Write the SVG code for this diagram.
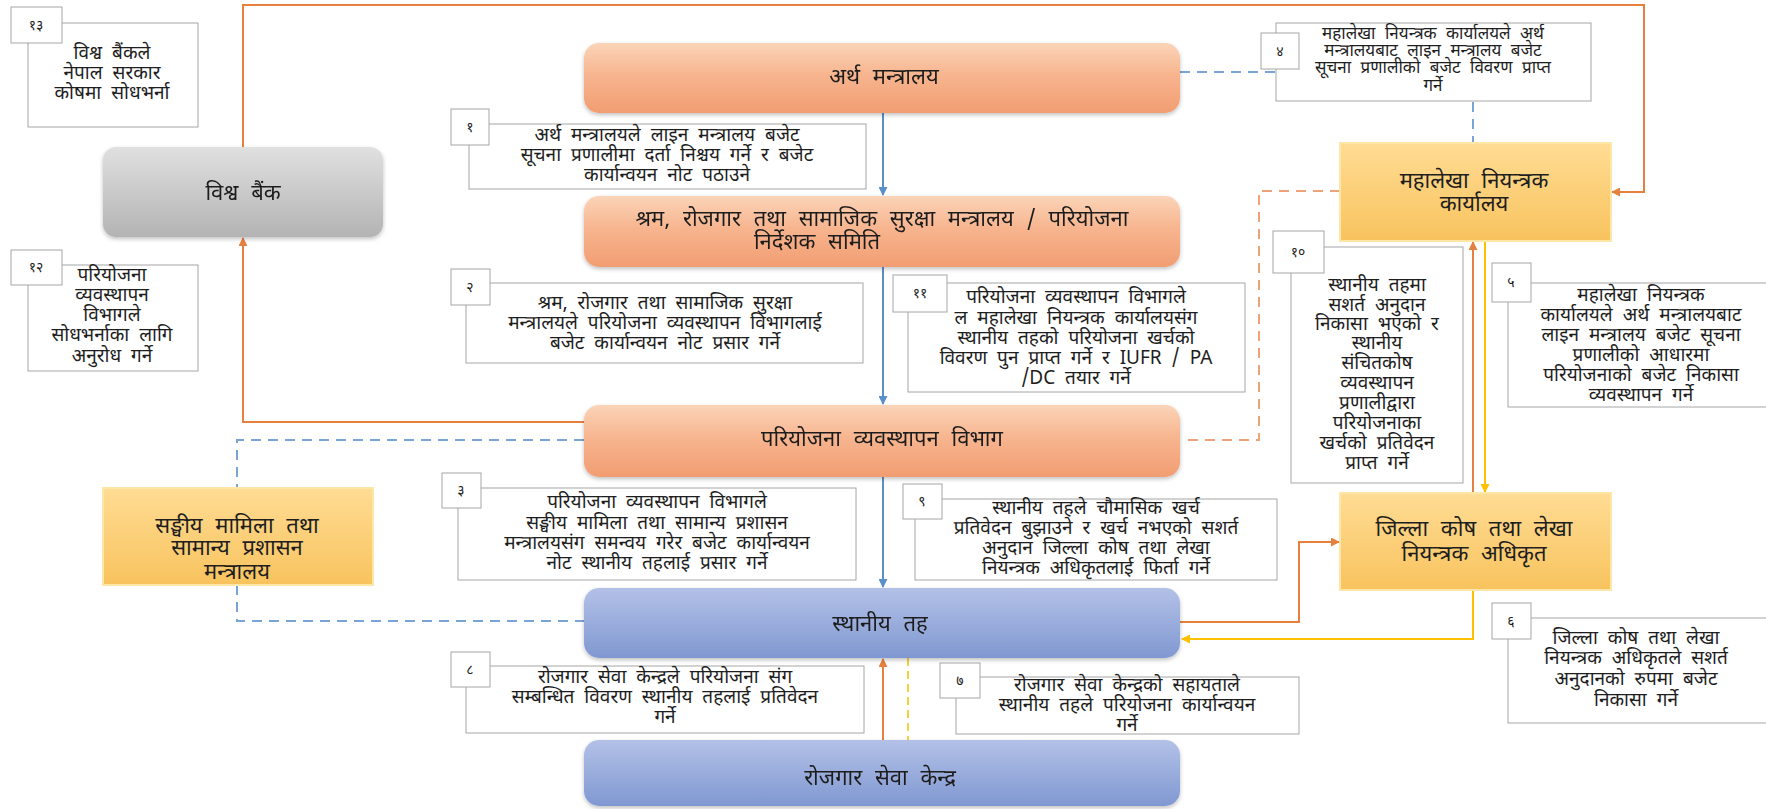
<svg xmlns="http://www.w3.org/2000/svg" width="1766" height="809" viewBox="0 0 1766 809">
<style>
text{font-family:"Noto Sans Devanagari","Lohit Devanagari","Noto Sans","DejaVu Sans",sans-serif;fill:#1e1e1e;text-anchor:middle}
.lbl{font-size:22px;word-spacing:7px}
.cl{font-size:19px;word-spacing:5px}
.c4{font-size:17px;word-spacing:5px}
.num{font-size:14px}
.cbox{fill:#fff;stroke:#a6a6a6;stroke-width:1}
.nbox{fill:#fff;stroke:#a6a6a6;stroke-width:1}
.conn{fill:none;stroke-width:2}
.blue{stroke:#5b8fc9}
.orange{stroke:#e5803f}
.yellow{stroke:#ffc000}
.bdash{stroke:#7aa3d6;stroke-dasharray:10 7}
.odash{stroke:#eea27a;stroke-dasharray:10 7}
.ydash{stroke:#f5d23c;stroke-dasharray:8 5}
</style>
<defs>
<linearGradient id="gOr" x1="0" y1="0" x2="0" y2="1"><stop offset="0" stop-color="#fbd4b8"/><stop offset="0.45" stop-color="#f7b58f"/><stop offset="1" stop-color="#f29d72"/></linearGradient>
<linearGradient id="gGr" x1="0" y1="0" x2="0" y2="1"><stop offset="0" stop-color="#e0e0e0"/><stop offset="1" stop-color="#b3b3b3"/></linearGradient>
<linearGradient id="gYe" x1="0" y1="0" x2="0" y2="1"><stop offset="0" stop-color="#ffdc94"/><stop offset="1" stop-color="#f8c35e"/></linearGradient>
<linearGradient id="gBl" x1="0" y1="0" x2="0" y2="1"><stop offset="0" stop-color="#b3c1e7"/><stop offset="1" stop-color="#8098d1"/></linearGradient>
<filter id="sh" x="-5%" y="-10%" width="110%" height="130%"><feGaussianBlur in="SourceAlpha" stdDeviation="2"/><feOffset dx="0" dy="2"/><feComponentTransfer><feFuncA type="linear" slope="0.25"/></feComponentTransfer><feMerge><feMergeNode/><feMergeNode in="SourceGraphic"/></feMerge></filter>
<marker id="aB" markerWidth="9" markerHeight="9" refX="8" refY="4.5" orient="auto" markerUnits="userSpaceOnUse"><path d="M0,0 L9,4.5 L0,9 z" fill="#5b8fc9"/></marker>
<marker id="aO" markerWidth="9" markerHeight="9" refX="8" refY="4.5" orient="auto" markerUnits="userSpaceOnUse"><path d="M0,0 L9,4.5 L0,9 z" fill="#e5803f"/></marker>
<marker id="aY" markerWidth="9" markerHeight="9" refX="8" refY="4.5" orient="auto" markerUnits="userSpaceOnUse"><path d="M0,0 L9,4.5 L0,9 z" fill="#ffc000"/></marker>
</defs>
<rect width="1766" height="809" fill="#fff"/>

<g id="connectors">
<path class="conn blue" d="M883,113 V195" marker-end="url(#aB)"/>
<path class="conn blue" d="M883,267 V404" marker-end="url(#aB)"/>
<path class="conn blue" d="M883,477 V587" marker-end="url(#aB)"/>
<path class="conn orange" d="M883,740 V659" marker-end="url(#aO)"/>
<path class="conn ydash" d="M908,658 V740"/>
<path class="conn orange" d="M584,422 H243 V238" marker-end="url(#aO)"/>
<path class="conn orange" d="M243,147 V5 H1644 V192 H1612" marker-end="url(#aO)"/>
<path class="conn bdash" d="M1180,72 H1473 V143"/>
<path class="conn odash" d="M1340,191 H1259 V440 H1182"/>
<path class="conn orange" d="M1473,493 V242" marker-end="url(#aO)"/>
<path class="conn yellow" d="M1485,241 V492" marker-end="url(#aY)"/>
<path class="conn orange" d="M1180,622 H1299 V542 H1339" marker-end="url(#aO)"/>
<path class="conn yellow" d="M1473,590 V639 H1182" marker-end="url(#aY)"/>
<path class="conn bdash" d="M584,440 H237 V488"/>
<path class="conn bdash" d="M237,585 V621 H584"/>
</g>

<g id="n-artha" filter="url(#sh)">
<rect x="584" y="43" width="596" height="70" rx="15" fill="url(#gOr)"/>
<text class="lbl" x="884" y="84">अर्थ मन्त्रालय</text>
</g>
<g id="n-shram" filter="url(#sh)">
<rect x="584" y="196" width="596" height="71" rx="15" fill="url(#gOr)"/>
<text class="lbl" y="226"><tspan x="882">श्रम, रोजगार तथा सामाजिक सुरक्षा मन्त्रालय / परियोजना</tspan><tspan x="817" dy="23">निर्देशक समिति</tspan></text>
</g>
<g id="n-pariyojana" filter="url(#sh)">
<rect x="584" y="405" width="596" height="72" rx="15" fill="url(#gOr)"/>
<text class="lbl" x="882" y="446">परियोजना व्यवस्थापन विभाग</text>
</g>
<g id="n-sthaniya" filter="url(#sh)">
<rect x="584" y="588" width="596" height="70" rx="15" fill="url(#gBl)"/>
<text class="lbl" x="880" y="631">स्थानीय तह</text>
</g>
<g id="n-rojgar" filter="url(#sh)">
<rect x="584" y="740" width="596" height="66" rx="15" fill="url(#gBl)"/>
<text class="lbl" x="880" y="785">रोजगार सेवा केन्द्र</text>
</g>
<g id="n-wb" filter="url(#sh)">
<rect x="103" y="147" width="280" height="90" rx="13" fill="url(#gGr)"/>
<text class="lbl" x="243" y="200">विश्व बैंक</text>
</g>
<g id="n-mahalekha">
<rect x="1340" y="143" width="271" height="98" fill="url(#gYe)" stroke="#fde6a6" stroke-width="2"/>
<text class="lbl" y="188"><tspan x="1474">महालेखा नियन्त्रक</tspan><tspan x="1474" dy="23">कार्यालय</tspan></text>
</g>
<g id="n-jilla">
<rect x="1340" y="493" width="271" height="97" fill="url(#gYe)" stroke="#fde6a6" stroke-width="2"/>
<text class="lbl" y="536"><tspan x="1474">जिल्ला कोष तथा लेखा</tspan><tspan x="1474" dy="25">नियन्त्रक अधिकृत</tspan></text>
</g>
<g id="n-sanghiya">
<rect x="103" y="488" width="270" height="97" fill="url(#gYe)" stroke="#fde6a6" stroke-width="2"/>
<text class="lbl" y="533"><tspan x="237">सङ्घीय मामिला तथा</tspan><tspan x="237" dy="22">सामान्य प्रशासन</tspan><tspan x="237" dy="24">मन्त्रालय</tspan></text>
</g>

<g id="c13">
<rect class="cbox" x="28" y="23" width="170" height="104"/>
<rect class="nbox" x="11" y="7" width="51" height="36"/>
<text class="num" x="36" y="30">१३</text>
<text class="cl" y="59"><tspan x="112">विश्व बैंकले</tspan><tspan x="112" dy="20">नेपाल सरकार</tspan><tspan x="112" dy="20">कोषमा सोधभर्ना</tspan></text>
</g>
<g id="c12">
<rect class="cbox" x="28" y="265" width="170" height="106"/>
<rect class="nbox" x="11" y="250" width="51" height="35"/>
<text class="num" x="36" y="272">१२</text>
<text class="cl" y="281"><tspan x="112">परियोजना</tspan><tspan x="112" dy="20">व्यवस्थापन</tspan><tspan x="112" dy="20">विभागले</tspan><tspan x="112" dy="20">सोधभर्नाका लागि</tspan><tspan x="112" dy="21">अनुरोध गर्ने</tspan></text>
</g>
<g id="c1">
<rect class="cbox" x="469" y="124" width="397" height="65"/>
<rect class="nbox" x="451" y="109" width="38" height="36"/>
<text class="num" x="470" y="132">१</text>
<text class="cl" y="141"><tspan x="667">अर्थ मन्त्रालयले लाइन मन्त्रालय बजेट</tspan><tspan x="667" dy="20">सूचना प्रणालीमा दर्ता निश्चय गर्ने र बजेट</tspan><tspan x="667" dy="20">कार्यान्वयन नोट पठाउने</tspan></text>
</g>
<g id="c4">
<rect class="cbox" x="1276" y="23" width="315" height="78"/>
<rect class="nbox" x="1261" y="33" width="38" height="36"/>
<text class="num" x="1280" y="56">४</text>
<text class="c4" y="39"><tspan x="1433">महालेखा नियन्त्रक कार्यालयले अर्थ</tspan><tspan x="1433" dy="17">मन्त्रालयबाट लाइन मन्त्रालय बजेट</tspan><tspan x="1433" dy="17">सूचना प्रणालीको बजेट विवरण प्राप्त</tspan><tspan x="1433" dy="18">गर्ने</tspan></text>
</g>
<g id="c2">
<rect class="cbox" x="466" y="283" width="397" height="80"/>
<rect class="nbox" x="451" y="269" width="39" height="36"/>
<text class="num" x="470" y="292">२</text>
<text class="cl" y="309"><tspan x="665">श्रम, रोजगार तथा सामाजिक सुरक्षा</tspan><tspan x="665" dy="20">मन्त्रालयले परियोजना व्यवस्थापन विभागलाई</tspan><tspan x="665" dy="20">बजेट कार्यान्वयन नोट प्रसार गर्ने</tspan></text>
</g>
<g id="c11">
<rect class="cbox" x="908" y="283" width="337" height="109"/>
<rect class="nbox" x="893" y="275" width="54" height="37"/>
<text class="num" x="920" y="298">११</text>
<text class="cl" y="303"><tspan x="1076">परियोजना व्यवस्थापन विभागले</tspan><tspan x="1076" dy="21">ल महालेखा नियन्त्रक कार्यालयसंग</tspan><tspan x="1076" dy="20">स्थानीय तहको परियोजना खर्चको</tspan><tspan x="1076" dy="20">विवरण पुन प्राप्त गर्ने र IUFR / PA</tspan><tspan x="1076" dy="20">/DC तयार गर्ने</tspan></text>
</g>
<g id="c10">
<rect class="cbox" x="1291" y="247" width="172" height="236"/>
<rect class="nbox" x="1273" y="231" width="51" height="42"/>
<text class="num" x="1298" y="257">१०</text>
<text class="cl" y="291"><tspan x="1377">स्थानीय तहमा</tspan><tspan x="1377" dy="20">सशर्त अनुदान</tspan><tspan x="1377" dy="19">निकासा भएको र</tspan><tspan x="1377" dy="19">स्थानीय</tspan><tspan x="1377" dy="20">संचितकोष</tspan><tspan x="1377" dy="20">व्यवस्थापन</tspan><tspan x="1377" dy="20">प्रणालीद्वारा</tspan><tspan x="1377" dy="20">परियोजनाका</tspan><tspan x="1377" dy="20">खर्चको प्रतिवेदन</tspan><tspan x="1377" dy="20">प्राप्त गर्ने</tspan></text>
</g>
<g id="c5">
<rect class="cbox" x="1508" y="283" width="270" height="124"/>
<rect class="nbox" x="1492" y="263" width="39" height="39"/>
<text class="num" x="1511" y="287">५</text>
<text class="cl" y="301"><tspan x="1641">महालेखा नियन्त्रक</tspan><tspan x="1641" dy="20">कार्यालयले अर्थ मन्त्रालयबाट</tspan><tspan x="1641" dy="20">लाइन मन्त्रालय बजेट सूचना</tspan><tspan x="1641" dy="20">प्रणालीको आधारमा</tspan><tspan x="1641" dy="20">परियोजनाको बजेट निकासा</tspan><tspan x="1641" dy="20">व्यवस्थापन गर्ने</tspan></text>
</g>
<g id="c3">
<rect class="cbox" x="458" y="488" width="398" height="92"/>
<rect class="nbox" x="442" y="473" width="39" height="35"/>
<text class="num" x="461" y="495">३</text>
<text class="cl" y="508"><tspan x="657">परियोजना व्यवस्थापन विभागले</tspan><tspan x="657" dy="21">सङ्घीय मामिला तथा सामान्य प्रशासन</tspan><tspan x="657" dy="20">मन्त्रालयसंग समन्वय गरेर बजेट कार्यान्वयन</tspan><tspan x="657" dy="20">नोट स्थानीय तहलाई प्रसार गर्ने</tspan></text>
</g>
<g id="c9">
<rect class="cbox" x="915" y="499" width="362" height="81"/>
<rect class="nbox" x="903" y="484" width="39" height="35"/>
<text class="num" x="922" y="506">९</text>
<text class="cl" y="514"><tspan x="1096">स्थानीय तहले चौमासिक खर्च</tspan><tspan x="1096" dy="20">प्रतिवेदन बुझाउने र खर्च नभएको सशर्त</tspan><tspan x="1096" dy="20">अनुदान जिल्ला कोष तथा लेखा</tspan><tspan x="1096" dy="20">नियन्त्रक अधिकृतलाई फिर्ता गर्ने</tspan></text>
</g>
<g id="c6">
<rect class="cbox" x="1508" y="618" width="262" height="105"/>
<rect class="nbox" x="1492" y="603" width="39" height="36"/>
<text class="num" x="1511" y="626">६</text>
<text class="cl" y="644"><tspan x="1636">जिल्ला कोष तथा लेखा</tspan><tspan x="1636" dy="20">नियन्त्रक अधिकृतले सशर्त</tspan><tspan x="1636" dy="21">अनुदानको रुपमा बजेट</tspan><tspan x="1636" dy="21">निकासा गर्ने</tspan></text>
</g>
<g id="c8">
<rect class="cbox" x="466" y="666" width="398" height="67"/>
<rect class="nbox" x="451" y="652" width="39" height="35"/>
<text class="num" x="470" y="674">८</text>
<text class="cl" y="683"><tspan x="665">रोजगार सेवा केन्द्रले परियोजना संग</tspan><tspan x="665" dy="20">सम्बन्धित विवरण स्थानीय तहलाई प्रतिवेदन</tspan><tspan x="665" dy="20">गर्ने</tspan></text>
</g>
<g id="c7">
<rect class="cbox" x="956" y="677" width="343" height="57"/>
<rect class="nbox" x="940" y="663" width="40" height="35"/>
<text class="num" x="960" y="685">७</text>
<text class="cl" y="691"><tspan x="1127">रोजगार सेवा केन्द्रको सहायताले</tspan><tspan x="1127" dy="20">स्थानीय तहले परियोजना कार्यान्वयन</tspan><tspan x="1127" dy="20">गर्ने</tspan></text>
</g>
</svg>
